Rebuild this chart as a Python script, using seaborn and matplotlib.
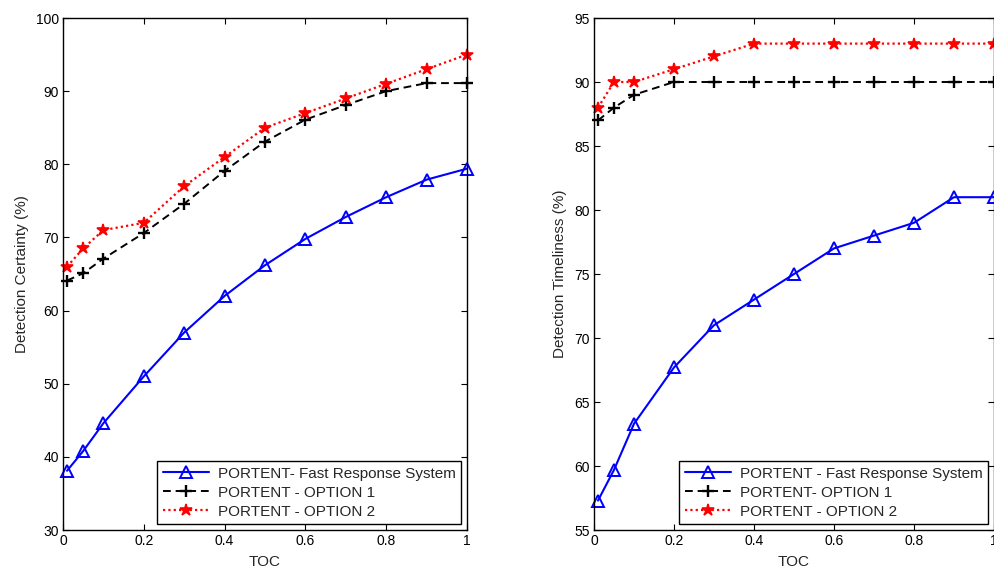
import matplotlib
matplotlib.use("Agg")
import matplotlib.pyplot as plt
import seaborn as sns
import pandas as pd

toc = [0.01, 0.05, 0.1, 0.2, 0.3, 0.4, 0.5, 0.6, 0.7, 0.8, 0.9, 1.0]

cert_fast = [38.1, 40.8, 44.6, 51.0, 57.0, 62.0, 66.2, 69.8, 72.8, 75.5, 77.9, 79.4]
cert_opt1 = [64.1, 65.1, 67.1, 70.6, 74.6, 79.1, 83.1, 86.1, 88.1, 90.0, 91.1, 91.1]
cert_opt2 = [66.0, 68.5, 71.0, 72.0, 77.0, 81.0, 85.0, 87.0, 89.0, 91.0, 93.0, 95.0]

time_fast = [57.3, 59.7, 63.3, 67.7, 71.0, 73.0, 75.0, 77.0, 78.0, 79.0, 81.0, 81.0]
time_opt1 = [87.0, 88.0, 89.0, 90.0, 90.0, 90.0, 90.0, 90.0, 90.0, 90.0, 90.0, 90.0]
time_opt2 = [88.0, 90.0, 90.0, 91.0, 92.0, 93.0, 93.0, 93.0, 93.0, 93.0, 93.0, 93.0]

labels_left = ["PORTENT- Fast Response System", "PORTENT - OPTION 1", "PORTENT - OPTION 2"]
labels_right = ["PORTENT - Fast Response System", "PORTENT- OPTION 1", "PORTENT - OPTION 2"]

sns.set_theme(style="white")
plt.rcParams['font.family'] = ['Liberation Sans', 'DejaVu Sans']

fig = plt.figure(figsize=(9.95, 5.69), dpi=100)
W, H = 995, 569
axL = fig.add_axes([63 / W, 1 - 530 / H, (467 - 63) / W, (530 - 18) / H])
axR = fig.add_axes([594 / W, 1 - 530 / H, (994 - 594) / W, (530 - 18) / H])

styles = [
    dict(color="#0000ff", linestyle="-", marker="^", markersize=8.5, markerfacecolor="none",
         markeredgecolor="#0000ff", markeredgewidth=1.4, linewidth=1.5),
    dict(color="black", linestyle=(0, (4, 2.5)), marker="+", markersize=9,
         markeredgecolor="black", markeredgewidth=1.7, linewidth=1.4),
    dict(color="red", linestyle=(0, (1, 1.4)), marker="*", markersize=9,
         markerfacecolor="red", markeredgecolor="red", markeredgewidth=1.2, linewidth=1.6),
]

def draw(ax, series, labels, ylim, yticks, ylabel):
    for s, lab, st in zip(series, labels, styles):
        df = pd.DataFrame({"TOC": toc, "v": s})
        sns.lineplot(data=df, x="TOC", y="v", ax=ax, label=lab, clip_on=False, **st)
    ax.set_xlim(0, 1)
    ax.set_ylim(*ylim)
    ax.set_xticks([0, 0.2, 0.4, 0.6, 0.8, 1])
    ax.set_xticklabels(["0", "0.2", "0.4", "0.6", "0.8", "1"])
    ax.set_yticks(yticks)
    ax.set_xlabel("TOC", fontsize=11, labelpad=5)
    ax.set_ylabel(ylabel, fontsize=11, labelpad=5)
    ax.tick_params(direction="in", length=4, width=0.8, labelsize=10, top=True, right=True,
                   bottom=True, left=True, pad=3, colors="black")
    for sp in ax.spines.values():
        sp.set_color("black")
        sp.set_linewidth(1.0)
        sp.set_visible(True)
    leg = ax.legend(loc="lower right", fontsize=11, frameon=True, fancybox=False,
                    edgecolor="black", framealpha=1, borderpad=0.35, labelspacing=0.32,
                    handlelength=3.0, handletextpad=0.6, borderaxespad=0.4)
    leg.get_frame().set_linewidth(1.0)

draw(axL, [cert_fast, cert_opt1, cert_opt2], labels_left, (30, 100),
     [30, 40, 50, 60, 70, 80, 90, 100], "Detection Certainty (%)")
draw(axR, [time_fast, time_opt1, time_opt2], labels_right, (55, 95),
     [55, 60, 65, 70, 75, 80, 85, 90, 95], "Detection Timeliness (%)")

fig.savefig("out.png", dpi=100)
